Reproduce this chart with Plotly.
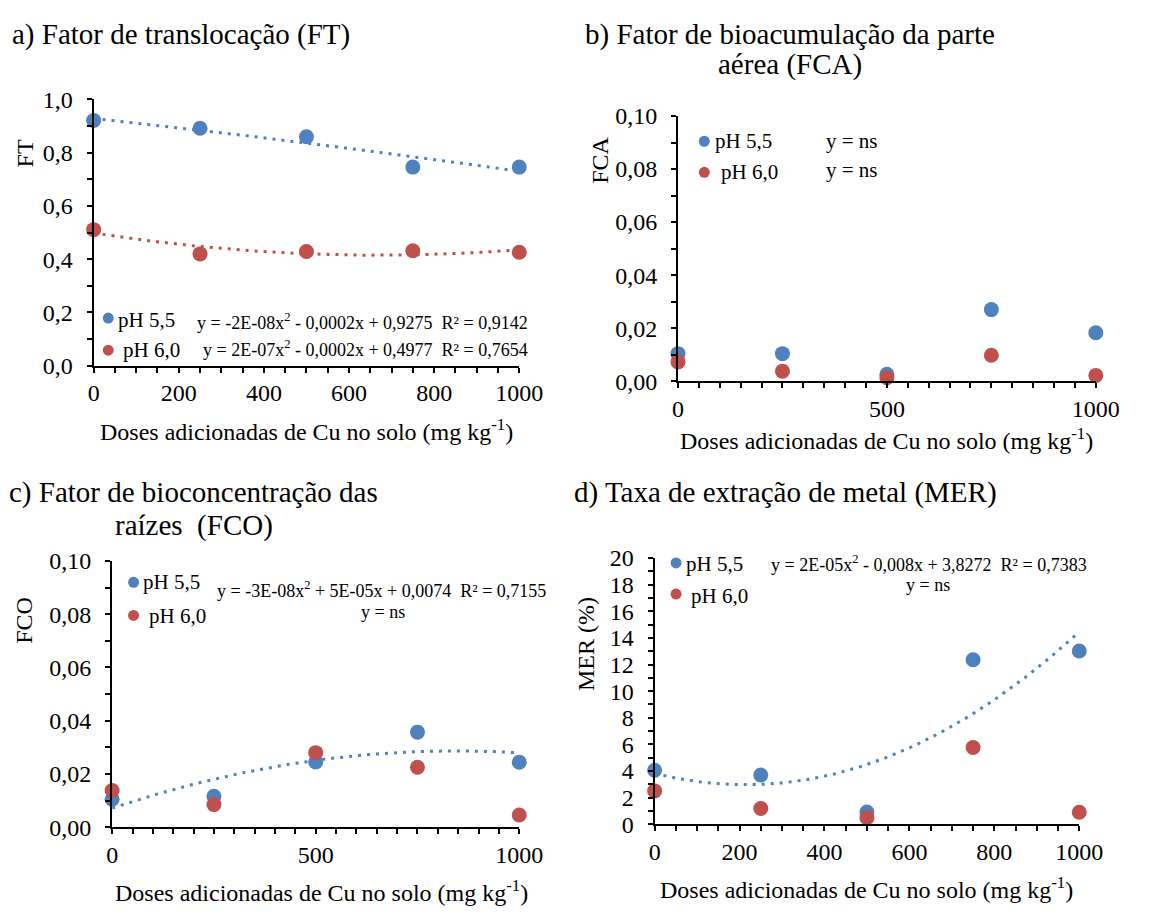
import numpy as np
import plotly.graph_objects as go

W, H = 1150, 916
FONT = "Liberation Serif, 'Times New Roman', Times, serif"
BLUE = "#4F81BD"
RED = "#C0504D"

# ---------------- data ----------------
doses = [0, 250, 500, 750, 1000]
series_names = ["pH 5,5", "pH 6,0"]

ft_ph55 = [0.921, 0.892, 0.860, 0.746, 0.746]
ft_ph60 = [0.511, 0.420, 0.429, 0.432, 0.426]
fca_ph55 = [0.0104, 0.0104, 0.0026, 0.0270, 0.0183]
fca_ph60 = [0.0073, 0.0038, 0.0013, 0.0098, 0.0022]
fco_ph55 = [0.0105, 0.0116, 0.0245, 0.0357, 0.0244]
fco_ph60 = [0.0138, 0.0085, 0.0280, 0.0225, 0.0046]
mer_ph55 = [4.06, 3.70, 0.92, 12.36, 13.02]
mer_ph60 = [2.51, 1.19, 0.49, 5.77, 0.90]

titles_a = ["a) Fator de translocação (FT)"]
titles_b = ["b) Fator de bioacumulação da parte", "aérea (FCA)"]
titles_c = ["c) Fator de bioconcentração das", "raízes\u00a0\u00a0(FCO)"]
titles_d = ["d) Taxa de extração de metal (MER)"]
ytitles = ["FT", "FCA", "FCO", "MER (%)"]
xtitle = "Doses adicionadas de Cu no solo (mg kg<sup>-1</sup>)"

eq_a = ["y = -2E-08x<sup>2</sup> - 0,0002x + 0,9275\u00a0\u00a0R² = 0,9142",
        "y = 2E-07x<sup>2</sup> - 0,0002x + 0,4977\u00a0\u00a0R² = 0,7654"]
eq_b = ["y = ns", "y = ns"]
eq_c = ["y = -3E-08x<sup>2</sup> + 5E-05x + 0,0074\u00a0\u00a0R² = 0,7155", "y = ns"]
eq_d = ["y = 2E-05x<sup>2</sup> - 0,008x + 3,8272\u00a0\u00a0R² = 0,7383", "y = ns"]

# ---------------- layout helpers (pixels) ----------------
def px(x):
    return x / W

def py(y):
    return 1 - y / H

TICK_SIZE = 24
panels = [
    dict(key="", box=(90, 527, 89, 363), yr=[0, 1.0], ydt=0.2, ymn=0.1, yfmt=".1f", xdt=200,
         ys=[ft_ph55, ft_ph60], fit=[True, True]),
    dict(key="2", box=(690, 1119, 106, 379), yr=[0, 0.1], ydt=0.02, ymn=0.01, yfmt=".2f", xdt=500,
         ys=[fca_ph55, fca_ph60], fit=[False, False]),
    dict(key="3", box=(109, 527, 564, 838), yr=[0, 0.1], ydt=0.02, ymn=0.01, yfmt=".2f", xdt=500,
         ys=[fco_ph55, fco_ph60], fit=[True, False]),
    dict(key="4", box=(666, 1102, 561, 835), yr=[0, 20], ydt=2, ymn=1, yfmt="d", xdt=200,
         ys=[mer_ph55, mer_ph60], fit=[True, False]),
]

fig = go.Figure()
colors = [BLUE, RED]
xgrid = np.linspace(0, 1000, 201)

for p in panels:
    xa = "x" + p["key"]
    ya = "y" + p["key"]
    # trend lines (least-squares quadratic, as the spreadsheet trendline does)
    for s, yv in enumerate(p["ys"]):
        if p["fit"][s]:
            coef = np.polyfit(doses, yv, 2)
            fig.add_trace(go.Scatter(x=xgrid, y=np.polyval(coef, xgrid), mode="lines",
                                     line=dict(color=colors[s], width=3, dash="3px,6px"),
                                     xaxis=xa, yaxis=ya, showlegend=False, hoverinfo="skip",
                                     cliponaxis=False))
    for s, yv in enumerate(p["ys"]):
        fig.add_trace(go.Scatter(x=doses, y=yv, mode="markers", name=series_names[s],
                                 marker=dict(color=colors[s], size=15),
                                 xaxis=xa, yaxis=ya, showlegend=False, cliponaxis=False))
    x0, x1, y0, y1 = p["box"]
    axis_base = dict(showline=True, linecolor="black", linewidth=2, ticks="outside",
                     ticklen=5, tickwidth=2, tickcolor="black", showgrid=False, zeroline=False,
                     tickfont=dict(family=FONT, size=TICK_SIZE, color="black"))
    fig.update_layout(**{
        "xaxis" + p["key"]: dict(axis_base, domain=[px(x0), px(x1)], range=[0, 1000],
                                 dtick=p["xdt"], tick0=0, tickformat="d", anchor=ya,
                                 ticklabelstandoff=0,
                                 minor=dict(dtick=50, tick0=0, ticks="outside", ticklen=5,
                                            tickwidth=2, tickcolor="black", showgrid=False)),
        "yaxis" + p["key"]: dict(axis_base, domain=[py(y1), py(y0)], range=p["yr"],
                                 dtick=p["ydt"], tick0=0, tickformat=p["yfmt"], anchor=xa,
                                 ticklabelstandoff=9,
                                 minor=dict(dtick=p["ymn"], tick0=0, ticks="outside", ticklen=5,
                                            tickwidth=2, tickcolor="black", showgrid=False)),
    })

annotations = []
shapes = []

def text(x, y, t, size, anchor="left", angle=0):
    annotations.append(dict(x=px(x), y=py(y), xref="paper", yref="paper", text=t,
                            showarrow=False, xanchor=anchor, yanchor="middle", textangle=angle,
                            borderpad=0, font=dict(family=FONT, size=size, color="black")))

def dot(x, y, color, r=5.5):
    shapes.append(dict(type="circle", xref="paper", yref="paper", xsizemode="pixel",
                       ysizemode="pixel", xanchor=px(x), yanchor=py(y), x0=-r, x1=r, y0=-r, y1=r,
                       fillcolor=color, line=dict(width=0)))

TITLE = 29
AXT = 24
LEG = 21
EQ = 18

# titles
text(5, 22, titles_a[0], TITLE)
text(805, 22, titles_b[0], TITLE, "center")
text(805, 53, titles_b[1], TITLE, "center")
text(193, 493, titles_c[0], TITLE, "center")
text(193, 527, titles_c[1], TITLE, "center")
text(582, 493, titles_d[0], TITLE)

# axis titles
text(19, 145, ytitles[0], AXT, "center", -90)
text(610, 152, ytitles[1], AXT, "center", -90)
text(19, 625, ytitles[2], AXT, "center", -90)
text(595, 649, ytitles[3], AXT, "center", -90)
text(309, 429, xtitle, AXT, "center")
text(904, 438, xtitle, AXT, "center")
text(324, 904, xtitle, AXT, "center")
text(884, 901, xtitle, AXT, "center")

# legends + equations
legend_pos = [
    dict(m=[(105, 314), (105, 347)], t=[(114, 316), (119, 347)],
         e=[(195, 318), (201, 345)], eq=eq_a, ea=["left", "left"], es=[EQ, EQ]),
    dict(m=[(717, 132), (717, 164)], t=[(727, 132), (733, 164)],
         e=[(841, 132), (841, 162)], eq=eq_b, ea=["left", "left"], es=[LEG, LEG]),
    dict(m=[(131, 586), (131, 620)], t=[(140, 586), (146, 621)],
         e=[(216, 593), (387, 616)], eq=eq_c, ea=["left", "center"], es=[EQ, EQ]),
    dict(m=[(688, 566), (688, 598)], t=[(697, 567), (702, 600)],
         e=[(784, 567), (947, 589)], eq=eq_d, ea=["left", "center"], es=[EQ, EQ]),
]
for L in legend_pos:
    for s in range(2):
        dot(*L["m"][s], colors[s])
        text(*L["t"][s], series_names[s], LEG)
        text(*L["e"][s], L["eq"][s], L["es"][s], L["ea"][s])

fig.update_layout(width=W, height=H, margin=dict(l=0, r=0, t=0, b=0),
                  paper_bgcolor="white", plot_bgcolor="white", separators=",.",
                  showlegend=False, annotations=annotations, shapes=shapes)

fig.write_html("out.html")
